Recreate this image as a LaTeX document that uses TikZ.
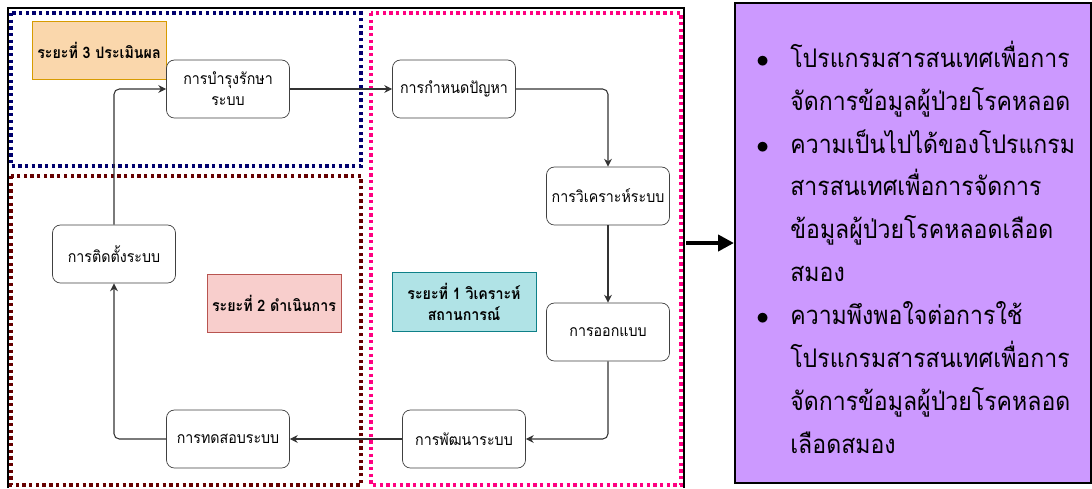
\documentclass[tikz,border=0pt]{standalone}
\usepackage{fontspec}
\newfontfamily\thaifont[Script=Thai, FakeStretch=0.9]{Loma}
\usetikzlibrary{arrows.meta, positioning}

\definecolor{zoneNavy}{RGB}{0,0,110}
\definecolor{zoneMaroon}{RGB}{102,0,0}
\definecolor{zonePink}{RGB}{255,0,128}
\definecolor{orangeFill}{RGB}{250,215,172}
\definecolor{orangeLine}{RGB}{215,155,0}
\definecolor{redFill}{RGB}{248,206,204}
\definecolor{redLine}{RGB}{184,84,80}
\definecolor{tealFill}{RGB}{176,227,230}
\definecolor{tealLine}{RGB}{14,128,136}
\definecolor{lilac}{RGB}{204,153,255}

\begin{document}
\begin{tikzpicture}[
		x=0.02cm, y=-0.02cm,
		zone/.style = {line width=1.9pt, dash pattern=on 1.9pt off 1.9pt},
		StepBox/.style = {
			draw=black!75,
			fill=white,
			rounded corners=4.5pt,
			minimum width=2.46cm,
			minimum height=1.16cm,
			align=center,
			inner sep=1pt,
			font=\thaifont\fontsize{9}{12}\selectfont
		},
		PhaseBox/.style = {
			minimum width=2.68cm,
			minimum height=1.16cm,
			align=center,
			inner sep=1pt,
			font=\thaifont\bfseries\fontsize{9}{12}\selectfont
		},
		conn/.style = {draw=black!80, line width=0.6pt, rounded corners=3pt, -{Stealth[length=4.5pt, width=4.5pt]}}
	]
	\useasboundingbox (0,0) rectangle (1092,488);

	% phase zones
	\draw[zone, zoneNavy] (11,13) rectangle (361,166);
	\draw[zone, zoneMaroon] (11,176) rectangle (361,485);
	\draw[zone, zonePink] (371,13) rectangle (681,485);
	\draw[black, line width=1.3pt] (8,488) -- (8,8) -- (684,8) -- (684,488);
	\coordinate (frameR) at (686,243);

	% phase labels
	\node (phase3) [PhaseBox, fill=orangeFill, draw=orangeLine] at (99,50) {ระยะที่ 3 ประเมินผล};
	\node (phase2) [PhaseBox, fill=redFill, draw=redLine] at (274,303) {ระยะที่ 2 ดำเนินการ};
	\node (phase1) [PhaseBox, fill=tealFill, draw=tealLine, minimum width=2.88cm, minimum height=1.18cm] at (464,302) {ระยะที่ 1 วิเคราะห์\\สถานการณ์};

	% steps
	\node (maint) [StepBox] at (228,89) {การบำรุงรักษา\\ระบบ};
	\node (problem) [StepBox] at (454,89) {การกำหนดปัญหา};
	\node (analysis) [StepBox] at (608,196) {การวิเคราะห์ระบบ};
	\node (design) [StepBox] at (608,332) {การออกแบบ};
	\node (develop) [StepBox] at (464,439) {การพัฒนาระบบ};
	\node (test) [StepBox] at (228,439) {การทดสอบระบบ};
	\node (install) [StepBox] at (114,254) {การติดตั้งระบบ};

	\draw[conn] (maint) -- (problem);
	\draw[conn] (problem.east) -| (analysis.north);
	\draw[conn] (analysis) -- (design);
	\draw[conn] (design.south) |- (develop.east);
	\draw[conn] (develop) -- (test);
	\draw[conn] (test.west) -| (install.south);
	\draw[conn] (install.north) |- (maint.west);

	% outcomes
	\node (outcome) [draw=black, line width=1.2pt, fill=lilac, minimum width=7.12cm, minimum height=9.6cm] at (913,243) {};
	\draw[line width=2.8pt, -{Triangle[length=9pt, width=9pt]}] (frameR) -- (outcome.west);
	\node (outtext) [anchor=north west, inner sep=0pt, align=left, font=\thaifont\fontsize{14.6}{24.4}\selectfont] at (756,37) {%
		\begin{tabular}{@{}p{0.68cm}@{}l@{}}
			$\bullet$ & โปรแกรมสารสนเทศเพื่อการ\\
			& จัดการข้อมูลผู้ป่วยโรคหลอด\\
			$\bullet$ & ความเป็นไปได้ของโปรแกรม\\
			& สารสนเทศเพื่อการจัดการ\\
			& ข้อมูลผู้ป่วยโรคหลอดเลือด\\
			& สมอง\\
			$\bullet$ & ความพึงพอใจต่อการใช้\\
			& โปรแกรมสารสนเทศเพื่อการ\\
			& จัดการข้อมูลผู้ป่วยโรคหลอด\\
			& เลือดสมอง
		\end{tabular}};
\end{tikzpicture}
\end{document}
